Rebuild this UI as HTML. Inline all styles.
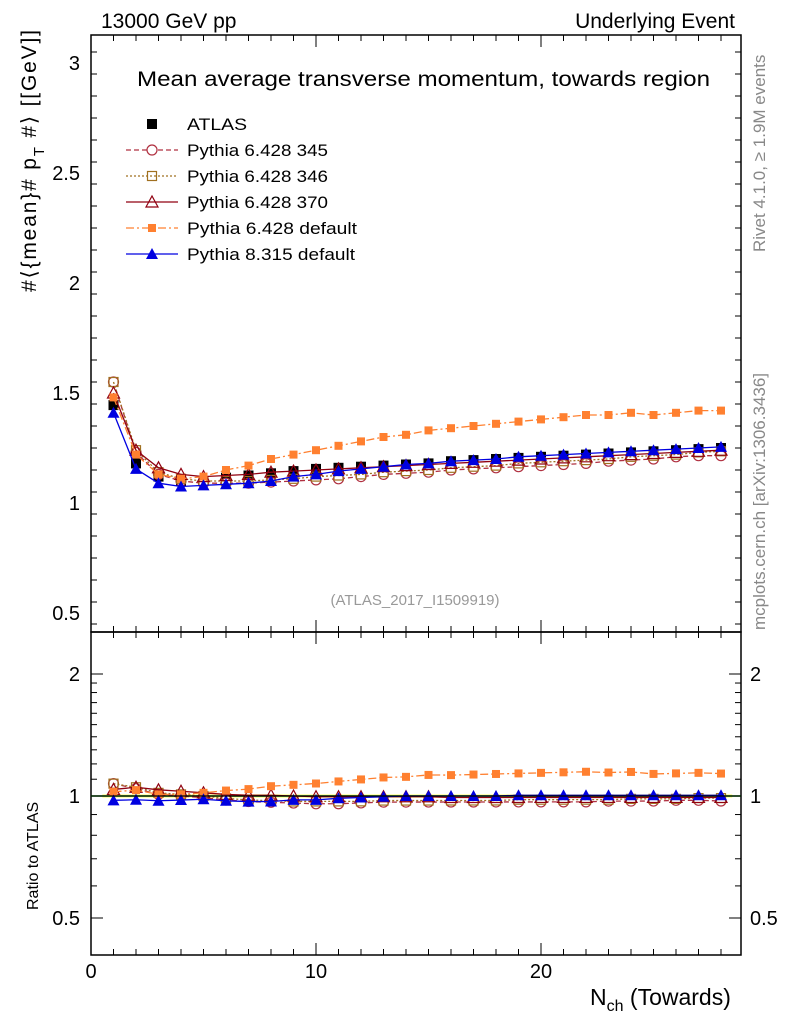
<!DOCTYPE html>
<html><head><meta charset="utf-8"><style>
html,body{margin:0;padding:0;background:#fff;}
svg{display:block;font-family:"Liberation Sans",sans-serif;}
</style></head><body>
<svg id="c" width="786" height="1024" xmlns="http://www.w3.org/2000/svg"></svg>
<script>
const nch=[1,2,3,4,5,6,7,8,9,10,11,12,13,14,15,16,17,18,19,20,21,22,23,24,25,26,27,28];
const atlas=[1.445,1.18,1.12,1.10,1.10,1.115,1.125,1.135,1.145,1.155,1.16,1.165,1.17,1.175,1.18,1.19,1.195,1.20,1.205,1.21,1.215,1.22,1.225,1.23,1.235,1.24,1.245,1.25];
const p345=[1.55,1.23,1.13,1.10,1.09,1.09,1.09,1.095,1.10,1.105,1.11,1.12,1.13,1.135,1.14,1.15,1.155,1.16,1.165,1.17,1.175,1.18,1.19,1.195,1.20,1.21,1.215,1.215];
const p346=[1.55,1.24,1.14,1.11,1.10,1.10,1.10,1.105,1.11,1.12,1.125,1.13,1.14,1.145,1.15,1.16,1.165,1.17,1.18,1.185,1.19,1.195,1.20,1.21,1.215,1.22,1.23,1.235];
const p370=[1.50,1.24,1.16,1.13,1.12,1.125,1.13,1.14,1.145,1.15,1.155,1.16,1.165,1.17,1.175,1.18,1.185,1.19,1.195,1.20,1.205,1.21,1.215,1.22,1.225,1.23,1.235,1.24];
const p6def=[1.48,1.22,1.13,1.11,1.12,1.15,1.17,1.20,1.22,1.24,1.26,1.28,1.30,1.31,1.33,1.34,1.35,1.36,1.37,1.38,1.39,1.40,1.40,1.41,1.40,1.41,1.42,1.42];
const p8def=[1.41,1.155,1.09,1.075,1.08,1.085,1.09,1.10,1.12,1.13,1.145,1.155,1.165,1.175,1.18,1.19,1.195,1.20,1.21,1.215,1.22,1.225,1.23,1.235,1.24,1.245,1.25,1.255];
const mainTicks=[0.5,1,1.5,2,2.5,3];
const ratioTicks=[0.5,1,2];
const xTicks=[0,10,20];

const S=document.getElementById('c');const NS='http://www.w3.org/2000/svg';
function el(t,a,p){const e=document.createElementNS(NS,t);for(const k in a)e.setAttribute(k,a[k]);(p||S).appendChild(e);return e;}
const L=91,R=741,T=35,MB=632,RB=955;
const X=v=>L+v*22.5;
const Y=v=>503-(v-1)*220;
const YR=v=>796-Math.log2(v)*122;

let f=el('rect',{x:L,y:T,width:R-L,height:MB-T,fill:'none',stroke:'#000','stroke-width':1.5});

f=el('rect',{x:L,y:MB,width:R-L,height:RB-MB,fill:'none',stroke:'#000','stroke-width':1.5});


for(let v=0;v<=29;v++){const x=X(v);if(x>R)break;const big=v%10==0;const h=big?12:6;
 for(const [top,bot] of [[T,MB],[MB,RB]]){el('line',{x1:x,y1:bot,x2:x,y2:bot-h,stroke:'#000'});el('line',{x1:x,y1:top,x2:x,y2:top+h,stroke:'#000'});}}
xTicks.forEach(v=>{const t=el('text',{x:X(v),y:978,'font-size':20,'text-anchor':'middle'});t.textContent=v;
 });
for(let v=0.45;v<=3.13;v+=0.1){const y=Y(v);const big=Math.abs(Math.round(v*2)-v*2)<0.01;const h=big?12:6;
 el('line',{x1:L,y1:y,x2:L+h,y2:y,stroke:'#000'});el('line',{x1:R,y1:y,x2:R-h,y2:y,stroke:'#000'});}
mainTicks.forEach(v=>{const t=el('text',{x:80,y:Y(v)+7,'font-size':20,'text-anchor':'end'});t.textContent=v;
 });
[0.4,0.5,0.6,0.7,0.8,0.9,1,1.1,1.2,1.3,1.4,1.5,1.6,1.7,1.8,1.9,2].forEach(v=>{const y=YR(v);if(y>RB||y<MB)return;const big=ratioTicks.includes(v);const h=big?12:6;
 el('line',{x1:L,y1:y,x2:L+h,y2:y,stroke:'#000'});el('line',{x1:R,y1:y,x2:R-h,y2:y,stroke:'#000'});});
ratioTicks.forEach(v=>{let t=el('text',{x:80,y:YR(v)+7,'font-size':20,'text-anchor':'end'});t.textContent=v;
 
 t=el('text',{x:750,y:YR(v)+7,'font-size':20});t.textContent=v;
 });

el('rect',{x:X(0.5),y:YR(1.01),width:X(28.5)-X(0.5),height:YR(0.99)-YR(1.01),fill:'#ffff99'});
let g=el('line',{x1:L,y1:YR(1),x2:R,y2:YR(1),stroke:'#00aa00','stroke-width':1.5});


function marker(p,type,x,y,c){
 if(type=='fsq')el('rect',{x:x-5,y:y-5,width:10,height:10,fill:c},p);
 else if(type=='osq')el('rect',{x:x-4.5,y:y-4.5,width:9,height:9,fill:'none',stroke:c,'stroke-width':1.2},p);
 else if(type=='oc')el('circle',{cx:x,cy:y,r:5,fill:'#fff',stroke:c,'stroke-width':1.2},p);
 else if(type=='otri')el('polygon',{points:`${x},${y-6} ${x-6},${y+5} ${x+6},${y+5}`,fill:'none',stroke:c,'stroke-width':1.2},p);
 else if(type=='ftri')el('polygon',{points:`${x},${y-6} ${x-6},${y+5} ${x+6},${y+5}`,fill:c},p);
 else if(type=='osqsm')el('rect',{x:x-4,y:y-4,width:8,height:8,fill:c},p);
}
const series=[
 ['pythia-6428-345',p345,'#b03040','5,3','oc'],
 ['pythia-6428-346',p346,'#a07020','2,2','osq'],
 ['pythia-6428-370',p370,'#900010','','otri'],
 ['pythia-6428-default',p6def,'#ff8030','8,3,2,3','osqsm'],
 ['pythia-8315-default',p8def,'#0000e0','','ftri']];
let ga=el('g',{});
nch.forEach((n,i)=>marker(ga,'fsq',X(n),Y(atlas[i]),'#000'));
series.forEach(([nm,d,c,da,m])=>{
 const gm=el('g',{});
 el('polyline',{points:nch.map((n,i)=>X(n)+','+Y(d[i])).join(' '),fill:'none',stroke:c,'stroke-width':1.3,'stroke-dasharray':da},gm);
 nch.forEach((n,i)=>marker(gm,m,X(n),Y(d[i]),c));
 const gr=el('g',{});
 el('polyline',{points:nch.map((n,i)=>X(n)+','+YR(d[i]/atlas[i])).join(' '),fill:'none',stroke:c,'stroke-width':1.3,'stroke-dasharray':da},gr);
 nch.forEach((n,i)=>marker(gr,m,X(n),YR(d[i]/atlas[i]),c));
});
el('line',{x1:L,y1:YR(1),x2:R,y2:YR(1),stroke:'#000','stroke-width':1.2});

const leg=[['ATLAS','#000','','fsq',60],['Pythia 6.428 345','#b03040','5,3','oc',141],['Pythia 6.428 346','#a07020','2,2','osq',141],['Pythia 6.428 370','#900010','','otri',141],['Pythia 6.428 default','#ff8030','8,3,2,3','osqsm',170],['Pythia 8.315 default','#0000e0','','ftri',168]];
leg.forEach(([t,c,da,m,w],i)=>{const y=124+i*26;const gl=el('g',{});
 
 if(i>0)el('line',{x1:126,y1:y,x2:178,y2:y,stroke:c,'stroke-width':1.3,'stroke-dasharray':da},gl);
 marker(gl,m,152,y,c);const tx=el('text',{x:187,y:y+6,'font-size':17,textLength:w,lengthAdjust:'spacingAndGlyphs'},gl);tx.textContent=t;});

function txt(s,a,name){const t=el('text',a);t.textContent=s;return t;}
txt('13000 GeV pp',{x:101,y:28,'font-size':21},'header-left');
txt('Underlying Event',{x:735,y:28,'font-size':21,'text-anchor':'end'},'header-right');
txt('Mean average transverse momentum, towards region',{x:137,y:86,'font-size':21,textLength:573,lengthAdjust:'spacingAndGlyphs'},'plot-title');
txt('(ATLAS_2017_I1509919)',{x:415,y:605,'font-size':15,'text-anchor':'middle',fill:'#999'},'analysis-id');
txt('Rivet 4.1.0, \u2265 1.9M events',{x:0,y:0,'font-size':17,fill:'#888',transform:'translate(765,252) rotate(-90)'},'rivet-label');
txt('mcplots.cern.ch [arXiv:1306.3436]',{x:0,y:0,'font-size':17,fill:'#888',transform:'translate(765,630) rotate(-90)'},'mcplots-label');
const yt=el('text',{x:0,y:0,'font-size':21,transform:'translate(36,292) rotate(-90)'});

yt.innerHTML='<tspan>#\u27e8{mean}# p</tspan><tspan dy="8" font-size="15">T</tspan><tspan dy="-8"> #\u27e9 [[GeV]]</tspan>';
yt.setAttribute('textLength',262);
txt('Ratio to ATLAS',{x:0,y:0,'font-size':16,transform:'translate(38,910) rotate(-90)'},'ratio-y-axis-title');
const xt=el('text',{x:590,y:1005,'font-size':23});

xt.innerHTML='<tspan>N</tspan><tspan dy="6" font-size="16">ch</tspan><tspan dy="-6"> (Towards)</tspan>';
</script>
</body></html>
